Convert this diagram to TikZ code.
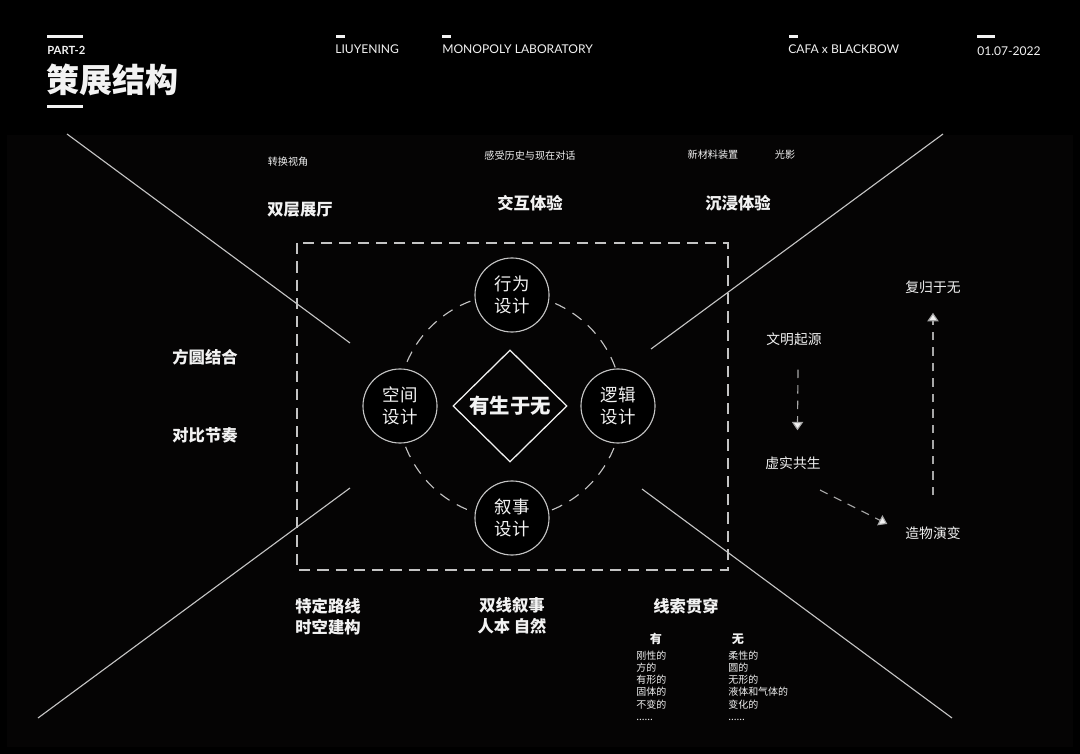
\documentclass[tikz,border=0pt]{standalone}
\usepackage{fontspec}
\setmainfont{Noto Sans CJK SC}
\newfontfamily\headfont{Lato}
\usepackage{xcolor}
\usetikzlibrary{arrows.meta,positioning,calc,shapes.geometric}

\definecolor{ink}{HTML}{F2F2F2}
\definecolor{rule}{HTML}{C4C4C4}
\definecolor{panel}{HTML}{050404}

\begin{document}
\begin{tikzpicture}[
  x=0.025cm, y=-0.025cm,
  every node/.style={text=ink, inner sep=0pt},
  head/.style={font=\headfont\fontsize{8.6}{9}\selectfont, anchor=west},
  bar/.style={fill=ink, draw=none},
  title/.style={font=\bfseries\fontsize{11.6}{15}\selectfont, align=center},
  hint/.style={font=\fontsize{7.2}{8}\selectfont},
  step label/.style={font=\fontsize{9.8}{10}\selectfont},
  design/.style={circle, draw=rule, line width=0.8pt, fill=black, minimum size=1.85cm, align=center, font=\fontsize{12.4}{15.5}\selectfont},
  thin/.style={draw=rule, line width=0.8pt},
  dashline/.style={draw=rule, line width=0.8pt, dash pattern=on 8pt off 5pt},
  flow/.style={draw=rule!85!black, line width=0.8pt, dash pattern=on 6pt off 5pt, -{Triangle[length=6pt,width=8pt,fill=ink]}},
  col/.style={font=\fontsize{7.1}{8.6}\selectfont, align=left, anchor=north west}
]
\fill[black] (0,0) rectangle (1080,754);
\fill[panel] (7,135) rectangle (1073,747);
\useasboundingbox (0,0) rectangle (1080,754);

\fill[bar] (47,35) rectangle (83,38);
\node[head, font=\headfont\bfseries\fontsize{8}{9}\selectfont] (part) at (47,50) {PART-2};
\node[anchor=west, font=\bfseries\fontsize{23.5}{24}\selectfont] (pagetitle) at (46,80) {策展结构};
\fill[bar] (47,105) rectangle (83,108);
\fill[bar] (336,35) rectangle (345,38);
\node[head] (author) at (335,49) {LIUYENING};
\fill[bar] (442,35) rectangle (451,38);
\node[head] (lab) at (442,49) {MONOPOLY LABORATORY};
\fill[bar] (789,35) rectangle (798,38);
\node[head] (collab) at (788,49) {CAFA x BLACKBOW};
\fill[bar] (977,35) rectangle (995,38);
\node[head] (date) at (977,51) {01.07-2022};

\coordinate (tlA) at (67,134);  \coordinate (tlB) at (350,343);
\coordinate (trA) at (943,134); \coordinate (trB) at (651,349);
\coordinate (blA) at (350,488); \coordinate (blB) at (38,718);
\coordinate (brA) at (642,489); \coordinate (brB) at (952,718);
\draw[thin] (tlA) -- (tlB);
\draw[thin] (trA) -- (trB);
\draw[thin] (blA) -- (blB);
\draw[thin] (brA) -- (brB);

\draw[dashline] (297,243) rectangle (728,570);

\node[diamond, draw=ink, line width=0.9pt, minimum width=2.85cm, minimum height=2.8cm, font=\bfseries\fontsize{14.5}{14.5}\selectfont] (core) at (510,406) {有生于无};
\draw[dashline, dash pattern=on 8pt off 6pt] (core.center) circle[radius=2.8cm];
\node[design] (behave) at (512,295) {行为\\设计};
\node[design] (space) at (400,406) {空间\\设计};
\node[design] (logic) at (618,406) {逻辑\\设计};
\node[design] (story) at (512,518) {叙事\\设计};

\node[hint] (turn) at (288,162) {转换视角};
\node[title] (floors) at (300,210) {双层展厅};
\node[hint] (dialog) at (530,156) {感受历史与现在对话};
\node[title] (interact) at (530,203) {交互体验};
\node[hint] (material) at (713,155) {新材料装置};
\node[hint] (light) at (785,155) {光影};
\node[title] (immerse) at (738,203) {沉浸体验};

\node[title] (squareround) at (205,357) {方圆结合};
\node[title] (rhythm) at (205,435) {对比节奏};

\node[title] (route) at (328,617) {特定路线\\时空建构};
\node[title] (narrative) at (512,616) {双线叙事\\人本 自然};
\node[title] (clue) at (686,606) {线索贯穿};
\node[font=\bfseries\fontsize{8.6}{9}\selectfont] (being) at (656,639) {有};
\node[font=\bfseries\fontsize{8.6}{9}\selectfont] (void) at (738,639) {无};
\node[col] (rigid) at (636,651) {刚性的\\方的\\有形的\\固体的\\不变的\\......};
\node[col] (soft) at (728,651) {柔性的\\圆的\\无形的\\液体和气体的\\变化的\\......};

\node[step label] (origin) at (794,339) {文明起源};
\node[step label] (coexist) at (793,463) {虚实共生};
\node[step label] (evolve) at (933,533) {造物演变};
\node[step label] (return) at (933,287) {复归于无};
\coordinate (drift) at (820,490);
\draw[flow, shorten <=0.6cm, shorten >=0.65cm] ([xshift=3pt]origin.south) -- ([xshift=3pt]coexist.north);
\draw[flow, shorten >=0.5cm] (drift) -- (evolve.west);
\draw[flow, shorten <=0.78cm, shorten >=0.48cm] (evolve.north) -- (return.south);
\end{tikzpicture}
\end{document}
